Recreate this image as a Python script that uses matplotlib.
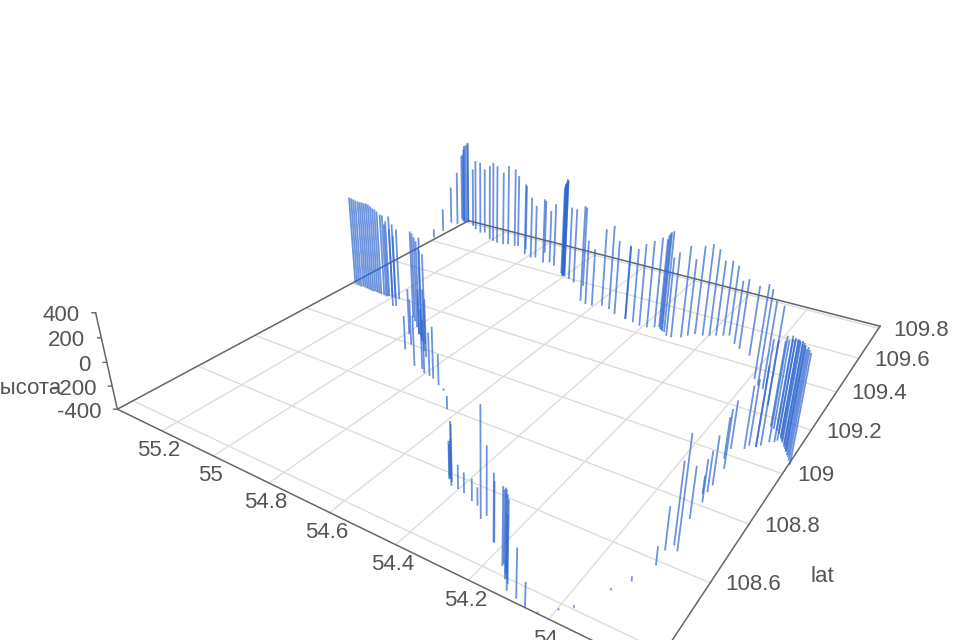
import numpy as np
import matplotlib
matplotlib.use('Agg')
import matplotlib.pyplot as plt
from mpl_toolkits.mplot3d import proj3d
from mpl_toolkits.mplot3d.art3d import Line3DCollection

lon = [55.387,55.398,55.409,55.434,55.403,55.419,55.389,55.388,55.341,55.312,55.277,55.263,55.209,55.189,55.167,55.139,55.123,55.094,
55.083,55.020,55.042,54.985,54.971,54.924,54.966,54.904,54.876,54.808,54.805,54.817,54.774,54.746,54.656,54.706,54.630,54.606,
54.578,54.547,54.515,54.469,55.219,55.157,55.148,54.470,54.439,54.411,54.386,54.366,54.311,54.294,54.268,54.255,54.240,54.216,
54.198,54.181,54.162,54.146,54.113,54.089,54.048,53.987,53.966,53.948,53.906,53.863,53.855,53.842,53.831,53.827,53.914,53.896,
53.912,53.885,53.880,53.863,53.894,53.894,53.889,53.901,53.867,53.881,53.889,53.891,53.887,53.909,53.933,54.853,54.939,54.823,
54.803,54.781,54.763,54.728,54.699,54.633,54.422,54.442,54.401,54.380,54.347,54.326,54.292,54.287,54.222,54.221,54.164,54.137,
54.115,54.086,54.057,54.027,53.996,53.973,55.378,55.367,55.356,55.345,55.339,55.328,55.317,55.306,55.295,55.284,55.279,55.268,
55.257,55.246,55.233,55.222,55.214,55.200,55.187,55.171,55.050,55.028,54.997,54.963,54.945,54.927,54.908,54.883,54.856,54.963,
54.943,54.989,53.863,53.853,53.843,53.834,53.825,53.817,53.806,53.798,53.792,53.780,53.773,53.765,53.785,53.793,53.803,53.813,
53.822,55.399,55.392,55.379,55.402,54.814,54.807,54.800,54.804,54.821,54.354,54.346,54.340,54.335,54.327,54.164,54.144,54.134,
54.124,54.430,54.439,54.446]

lat = [109.528,109.624,109.689,109.766,109.766,109.813,109.793,109.812,109.784,109.764,109.748,109.757,
109.718,109.713,109.708,109.708,109.717,109.718,109.724,109.679,109.715,109.667,109.676,109.656,
109.727,109.668,109.654,109.604,109.605,109.628,109.595,109.582,109.485,109.578,109.474,109.475,
109.491,109.484,109.465,109.455,109.192,109.150,109.155,109.455,109.449,109.441,109.444,109.456,
109.430,109.429,109.444,109.463,109.483,109.486,109.496,109.507,109.518,109.527,109.490,109.472,
109.452,109.346,109.320,109.311,109.245,109.063,109.075,109.098,109.105,109.115,109.025,108.946,
108.981,109.042,109.060,109.063,108.877,108.849,108.812,108.838,108.645,108.657,108.748,108.634,
108.586,108.522,108.480,108.915,108.970,108.914,108.900,108.897,108.892,108.874,108.861,108.798,
108.565,108.581,108.564,108.560,108.548,108.542,108.511,108.526,108.467,108.468,108.422,108.395,
108.372,108.365,108.355,108.355,108.383,108.404,109.204,109.202,109.200,109.198,109.202,109.200,
109.198,109.196,109.194,109.192,109.196,109.194,109.192,109.190,109.190,109.188,109.193,109.193,
109.193,109.194,109.127,109.111,109.086,109.057,109.047,109.030,109.022,108.990,108.968,109.057,
109.000,109.042,109.161,109.156,109.152,109.143,109.134,109.120,109.107,109.093,109.083,109.067,
109.054,109.041,109.073,109.087,109.099,109.113,109.126,109.802,109.806,109.802,109.800,109.615,
109.610,109.606,109.612,109.619,109.465,109.456,109.452,109.448,109.446,108.427,108.407,108.397,
108.387,108.576,108.583,108.587]

top = [-290,-307,-157,-4,177,310,448,468,229,349,362,292,387,436,416,363,431,411,
343,332,271,227,143,255,147,138,235,514,529,535,318,330,508,374,213,149,
335,392,295,290,299,335,273,290,287,358,400,429,318,375,432,304,407,434,
391,289,289,245,179,233,228,416,423,352,430,456,432,448,448,407,-4,78,
-61,113,141,255,-5,-71,-61,-253,451,225,8,-66,-253,-362,-384,48,-91,132,
78,-14,58,-125,-382,-283,108,-93,-205,-234,-222,-254,448,137,121,61,182,256,
149,-29,-211,-385,-385,-380,449,448,447,445,436,435,443,441,449,448,429,419,
417,407,387,386,330,385,318,280,406,419,430,448,418,431,411,162,123,21,
15,21,303,325,346,374,387,406,426,437,442,460,464,468,432,428,416,405,
393,400,443,462,346,500,527,545,546,464,412,462,487,503,519,148,212,210,
208,57,-80,-134]

x_ticks = [54, 54.2, 54.4, 54.6, 54.8, 55, 55.2]
x_labels = ['54', '54.2', '54.4', '54.6', '54.8', '55', '55.2']
y_ticks = [108.4, 108.6, 108.8, 109, 109.2, 109.4, 109.6, 109.8]
y_labels = ['108.4', '108.6', '108.8', '109', '109.2', '109.4', '109.6', '109.8']
z_ticks = [-400, -200, 0, 200, 400]
z_labels = ['-400', '-200', '0', '200', '400']

FLEN = 940.0
PX, PY = 486.0, 337.0
W = 1200.0
e = FLEN * 0.185 / W
GREY = '#666666'
TEXT = '#555555'
FONT = 'Liberation Sans'

fig = plt.figure(figsize=(9.6, 6.4), dpi=100)
ax = fig.add_axes([(PX - 0.5135 * W) / 960, (640 - PY - 0.5135 * W) / 640, W / 960, W / 640],
                  projection='3d', proj_type='persp', focal_length=e)
ax.set_axis_off()
ax.computed_zorder = False
ax.view_init(elev=28.8, azim=-55.8)

xl = (53.768, 55.388)
yl = (108.355, 109.815)
zb = -400
for x in x_ticks:
    ax.plot([x, x], yl, [zb, zb], color='#dddddd', lw=1)
for y in y_ticks:
    ax.plot(xl, [y, y], [zb, zb], color='#dddddd', lw=1)
corners = [(xl[0], yl[0]), (xl[1], yl[0]), (xl[1], yl[1]), (xl[0], yl[1]), (xl[0], yl[0])]
for a, b in zip(corners[:-1], corners[1:]):
    ax.plot([a[0], b[0]], [a[1], b[1]], [zb, zb], color=GREY, lw=1.1)
ax.plot([xl[1], xl[1]], [yl[0], yl[0]], [-400, 400], color=GREY, lw=1.1)

segs = [[(a, b, zb), (a, b, c)] for a, b, c in zip(lon, lat, top)]
ax.add_collection3d(Line3DCollection(segs, colors='#2f66d0', linewidths=1.3, alpha=0.7), autolim=False)

ax.set_xlim(56.2596, 53.295)
ax.set_ylim(107.866, 110.428)
ax.set_zlim(-4350, 3550)
ax.set_box_aspect((1, 1, 1), zoom=10 * e / 1.1003)
M = ax.get_proj()


def lab(s, x, y, z, dx, dy, ha):
    a, b, _ = proj3d.proj_transform(x, y, z, M)
    ax.annotate(s, (a, b), xytext=(dx, dy), textcoords='offset pixels', ha=ha, va='center',
                fontsize=16, color=TEXT, family=FONT, annotation_clip=False)


for x, s in zip(x_ticks, x_labels):
    lab(s, x, yl[0], zb, -3, -20, 'center')
for y, s in zip(y_ticks, y_labels):
    lab(s, xl[0], y, zb, 15, -2, 'left')
for z, s in zip(z_ticks, z_labels):
    lab(s, xl[1], yl[0], z, -16, -3, 'right')
    a, b, _ = proj3d.proj_transform(xl[1], yl[0], z, M)
    ax.annotate('', (a, b), xytext=(-4, 0), textcoords='offset pixels', annotation_clip=False,
                arrowprops=dict(arrowstyle='-', color=GREY, lw=1, shrinkA=0, shrinkB=0))

fig.text(62 / 960, 1 - 389 / 640, 'высота', ha='right', va='center', fontsize=16, color=TEXT, family=FONT)
fig.text(822 / 960, 1 - 576 / 640, 'lat', ha='center', va='center', fontsize=16, color=TEXT, family=FONT)
fig.savefig('out.png', dpi=100)
